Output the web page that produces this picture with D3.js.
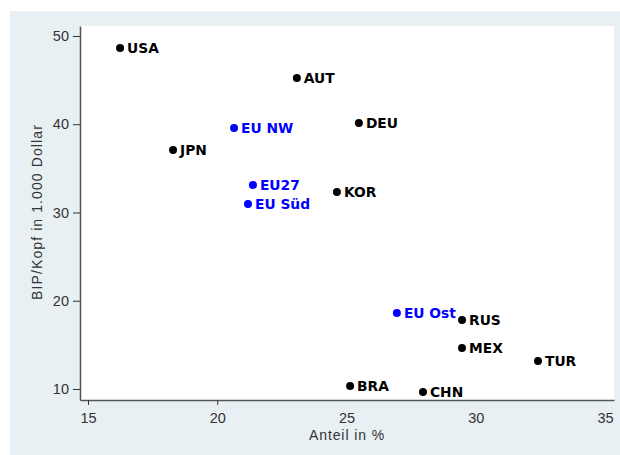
<!DOCTYPE html>
<html><head><meta charset="utf-8">
<script src="https://cdn.jsdelivr.net/npm/d3@7"></script>
<style>body{margin:0;background:#fff;} svg{display:block;}</style>
</head><body>
<script>
const labels = ["USA","AUT","DEU","EU NW","JPN","EU27","KOR","EU Süd","EU Ost","RUS","MEX","TUR","BRA","CHN"];
const anteil = [16.24,23.08,25.48,20.65,18.29,21.38,24.63,21.19,26.95,29.47,29.47,32.41,25.14,27.96];
const bip = [48.64,45.24,40.14,39.57,37.08,33.12,32.32,30.96,18.61,17.82,14.65,13.17,10.34,9.66];
const isEU = [false,false,false,true,false,true,false,true,true,false,false,false,false,false];
const xTicks = [15,20,25,30,35];
const yTicks = [10,20,30,40,50];
const xTicksWithMark = [15,20];

const W=620,H=455;
const svg=d3.select("body").append("svg").attr("width",W).attr("height",H);
svg.append("rect").attr("x",10).attr("y",11).attr("width",610).attr("height",444).attr("fill","#e8f0f3");
const L=80,R=614,T=26,B=400;
svg.append("rect").attr("x",L).attr("y",T).attr("width",R-L).attr("height",B-T).attr("fill","#fff");

const x=d3.scaleLinear().domain([14.69,35.35]).range([L,R]);
const y=d3.scaleLinear().domain([8.75,51.13]).range([B,T]);

const font="'Liberation Sans', Arial, sans-serif";
const gx=svg.append("g").attr("transform",`translate(0,${B})`)
  .call(d3.axisBottom(x).tickValues(xTicks).tickSize(5).tickPadding(8).tickSizeOuter(0));
gx.select(".domain").attr("stroke","#555").attr("stroke-width",1.5);
gx.selectAll(".tick line").attr("stroke","#333").attr("opacity",d=>xTicksWithMark.includes(d)?1:0);
gx.selectAll(".tick text").attr("font-family",font).attr("font-size",14.5).attr("fill","#333");

const gy=svg.append("g").attr("transform",`translate(${L},0)`)
  .call(d3.axisLeft(y).tickValues(yTicks).tickSize(7).tickPadding(4).tickSizeOuter(0));
gy.select(".domain").attr("stroke","#555").attr("stroke-width",1.5);
gy.selectAll(".tick line").attr("stroke","#333");
gy.selectAll(".tick text").attr("font-family",font).attr("font-size",14.5).attr("fill","#333");

svg.append("text").attr("x",(L+R)/2).attr("y",440).attr("text-anchor","middle")
  .attr("font-family",font).attr("font-size",14).attr("letter-spacing",0.9).attr("fill","#333").text("Anteil in %");
svg.append("text").attr("transform",`translate(42,212) rotate(-90)`).attr("text-anchor","middle")
  .attr("font-family",font).attr("font-size",14).attr("letter-spacing",1.1).attr("fill","#333").text("BIP/Kopf in 1.000 Dollar");

const data=labels.map((l,i)=>({l,x:anteil[i],y:bip[i],eu:isEU[i]}));
const g=svg.append("g");
g.selectAll("circle").data(data).join("circle")
  .attr("cx",d=>x(d.x)).attr("cy",d=>y(d.y)).attr("r",4)
  .attr("fill",d=>d.eu?"#0000ff":"#000");
g.selectAll("text").data(data).join("text")
  .attr("x",d=>x(d.x)+7).attr("y",d=>y(d.y)+5.2)
  .attr("font-family","'DejaVu Sans', Verdana, sans-serif").attr("font-weight","bold").attr("font-size",13.8)
  .attr("fill",d=>d.eu?"#0000ff":"#000").text(d=>d.l);
</script>
</body></html>
